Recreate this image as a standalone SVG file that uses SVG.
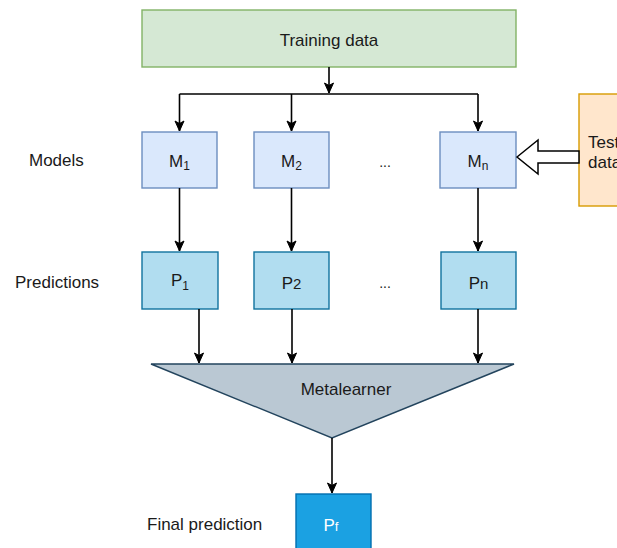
<svg xmlns="http://www.w3.org/2000/svg" width="617" height="548" viewBox="0 0 617 548">
  <style>
    text { font-family: "Liberation Sans", Helvetica, Arial, sans-serif; font-size: 17px; fill: #1a1a1a; }
    .mid { text-anchor: middle; }
    .model { fill: #dae8fc; stroke: #6c8ebf; stroke-width: 1.4; }
    .pred { fill: #b1ddf0; stroke: #10739e; stroke-width: 1.4; }
    .edge { fill: none; stroke: #000; stroke-width: 1.6; }
    .sub { font-size: 12px; }
  </style>
  <defs>
    <marker id="arrow" markerUnits="userSpaceOnUse" markerWidth="12" markerHeight="12" viewBox="0 0 12 12" refX="11" refY="6" orient="auto">
      <path d="M1,1.5 L11,6 L1,10.5 L3.5,6 Z" fill="#000" stroke="#000" stroke-width="1"/>
    </marker>
  </defs>

  <!-- row labels -->
  <g id="row-labels">
    <text x="29" y="166">Models</text>
    <text x="15" y="288">Predictions</text>
    <text x="147" y="530">Final prediction</text>
  </g>

  <g id="training-data">
    <rect x="142" y="10" width="374" height="57" fill="#d5e8d4" stroke="#82b366" stroke-width="1.4"/>
    <text class="mid" x="329" y="46">Training data</text>
  </g>

  <g id="test-data">
    <rect x="579" y="94" width="50" height="112" fill="#ffe6cc" stroke="#d79b00" stroke-width="1.4"/>
    <text x="588" y="148">Test</text>
    <text x="588" y="168">data</text>
  </g>

  <g id="model-1">
    <rect class="model" x="142" y="132" width="75" height="56"/>
    <text class="mid" x="179.5" y="167">M<tspan class="sub" dy="3">1</tspan></text>
  </g>
  <g id="model-2">
    <rect class="model" x="254" y="132" width="75" height="56"/>
    <text class="mid" x="291.5" y="167">M<tspan class="sub" dy="3">2</tspan></text>
  </g>
  <g id="model-ellipsis">
    <text class="mid" x="385" y="167" style="font-size:14px">...</text>
  </g>
  <g id="model-n">
    <rect class="model" x="440" y="132" width="76" height="56"/>
    <text class="mid" x="478" y="167">M<tspan class="sub" dy="3">n</tspan></text>
  </g>

  <g id="prediction-1">
    <rect class="pred" x="142" y="252" width="76" height="57"/>
    <text class="mid" x="180" y="286">P<tspan class="sub" dy="4">1</tspan></text>
  </g>
  <g id="prediction-2">
    <rect class="pred" x="254" y="252" width="75" height="57"/>
    <text class="mid" x="291.5" y="289">P<tspan style="font-size:15px">2</tspan></text>
  </g>
  <g id="prediction-ellipsis">
    <text class="mid" x="385" y="288" style="font-size:14px">...</text>
  </g>
  <g id="prediction-n">
    <rect class="pred" x="441" y="252" width="75" height="57"/>
    <text class="mid" x="478.5" y="289">P<tspan style="font-size:15px">n</tspan></text>
  </g>

  <g id="metalearner">
    <polygon points="151,364 514,364 332,438" fill="#bac8d3" stroke="#23445d" stroke-width="1.4"/>
    <text class="mid" x="346" y="395">Metalearner</text>
  </g>

  <g id="final-prediction">
    <rect x="296" y="494" width="75" height="60" fill="#1ba1e2" stroke="#006eaf" stroke-width="1.4"/>
    <text class="mid" x="331" y="531" style="fill:#ffffff">P<tspan style="font-size:13px">f</tspan></text>
  </g>

  <g id="connectors">
    <path class="edge" d="M329,67 V93" marker-end="url(#arrow)"/>
    <path class="edge" d="M179.5,94 H478"/>
    <path class="edge" d="M179.5,94 V131" marker-end="url(#arrow)"/>
    <path class="edge" d="M291.5,94 V131" marker-end="url(#arrow)"/>
    <path class="edge" d="M478,94 V131" marker-end="url(#arrow)"/>

    <path class="edge" d="M179.5,188 V251" marker-end="url(#arrow)"/>
    <path class="edge" d="M291.5,188 V251" marker-end="url(#arrow)"/>
    <path class="edge" d="M478,188 V251" marker-end="url(#arrow)"/>

    <path class="edge" d="M199,309 V363" marker-end="url(#arrow)"/>
    <path class="edge" d="M292,309 V363" marker-end="url(#arrow)"/>
    <path class="edge" d="M478,309 V363" marker-end="url(#arrow)"/>

    <path class="edge" d="M332,438 V493" marker-end="url(#arrow)"/>

    <!-- hollow block arrow from test data into the last model -->
    <polygon points="517,157 538,140 538,151 579,151 579,163 538,163 538,174" fill="#ffffff" stroke="#000" stroke-width="1.5" stroke-linejoin="miter"/>
  </g>
</svg>
